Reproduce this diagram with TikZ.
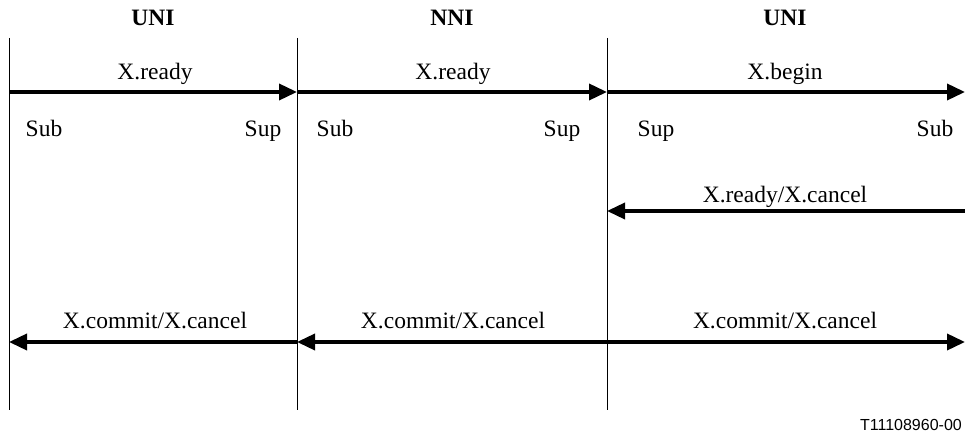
\documentclass[tikz,border=0pt]{standalone}
\usepackage{fontspec}
\setmainfont{Liberation Serif}
\newfontfamily\figsans{Liberation Sans}
\usetikzlibrary{arrows.meta}
\begin{document}
\begin{tikzpicture}[x=1pt,y=-1pt,
  lifeline/.style={line width=0.8pt},
  msg/.style={line width=3.6pt,-{Triangle[length=18pt,width=16pt]}},
  lbl/.style={font=\fontsize{23.5}{28}\selectfont,inner sep=0pt,anchor=base},
  hdr/.style={font=\fontsize{23.5}{28}\selectfont\bfseries,inner sep=0pt,anchor=base},
  ref/.style={font=\fontsize{16}{19}\selectfont\figsans,inner sep=0pt,anchor=base east}]
\useasboundingbox (0,0) rectangle (965,438);
\clip (0,0) rectangle (965,438);
% lifelines
\coordinate (Lt) at (9,38);   \coordinate (Lb) at (9,410);
\coordinate (Mt) at (297,38); \coordinate (Mb) at (297,410);
\coordinate (Rt) at (607,38); \coordinate (Rb) at (607,410);
\draw[lifeline] (Lt) -- (Lb);
\draw[lifeline] (Mt) -- (Mb);
\draw[lifeline] (Rt) -- (Rb);
% headers
\node[hdr] (h1) at (153,26) {UNI};
\node[hdr] (h2) at (452,26) {NNI};
\node[hdr] (h3) at (785,26) {UNI};
% message points
\coordinate (L1) at (9,92);  \coordinate (M1) at (297,92);  \coordinate (R1) at (607,92);  \coordinate (E1) at (965,92);
\coordinate (R2) at (607,211); \coordinate (E2) at (965,211);
\coordinate (L3) at (9,342); \coordinate (M3) at (297,342); \coordinate (R3) at (607,342); \coordinate (E3) at (965,342);
% arrows
\draw[msg] (L1) -- (M1);
\draw[msg] (M1) -- (R1);
\draw[msg] (R1) -- (E1);
\draw[msg] (E2) -- (R2);
\draw[msg] (M3) -- (L3);
\draw[msg] (R3) -- (M3);
\draw[msg] (R3) -- (E3);
% labels
\node[lbl] (a1) at (155,80) {X.ready};
\node[lbl] (a2) at (453,80) {X.ready};
\node[lbl] (a3) at (785,80) {X.begin};
\node[lbl] (s1) at (44,137) {Sub};
\node[lbl] (s2) at (263,137) {Sup};
\node[lbl] (s3) at (335,137) {Sub};
\node[lbl] (s4) at (562,137) {Sup};
\node[lbl] (s5) at (656,137) {Sup};
\node[lbl] (s6) at (935,137) {Sub};
\node[lbl] (b1) at (785,203) {X.ready/X.cancel};
\node[lbl] (c1) at (155,328) {X.commit/X.cancel};
\node[lbl] (c2) at (453,328) {X.commit/X.cancel};
\node[lbl] (c3) at (785,328) {X.commit/X.cancel};
\node[ref] (t) at (962,430) {T11108960-00};
\end{tikzpicture}
\end{document}
